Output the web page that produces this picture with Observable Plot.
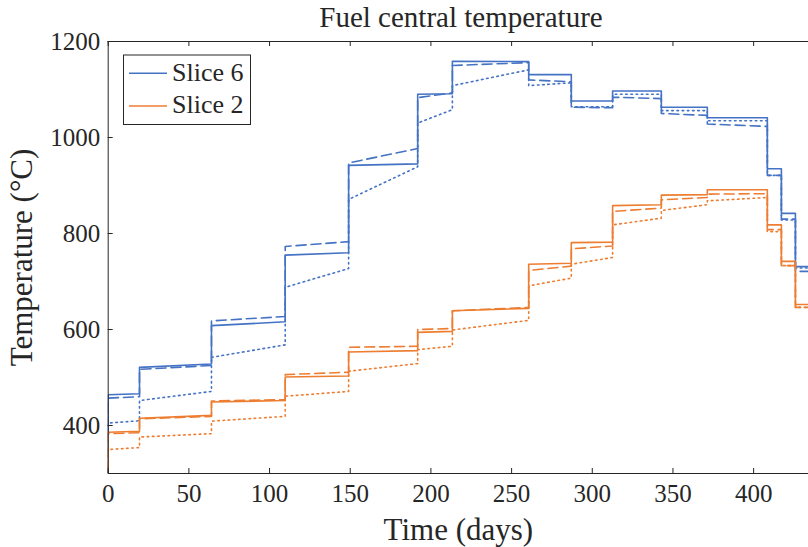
<!DOCTYPE html>
<html>
<head>
<meta charset="utf-8">
<script src="https://cdn.jsdelivr.net/npm/d3@7"></script>
<script src="https://cdn.jsdelivr.net/npm/@observablehq/plot@0.6"></script>
<style>
  body { margin: 0; background: #fff; }
  #fig { position: relative; width: 808px; height: 547px; overflow: hidden; font-family: "Liberation Serif", "Times New Roman", Times, "DejaVu Serif", serif; color: #262626; }
  #fig svg, #fig text { font-family: "Liberation Serif", "Times New Roman", Times, "DejaVu Serif", serif !important; }
  #overlay { position: absolute; left: 0; top: 0; pointer-events: none; }
</style>
</head>
<body>
<div id="fig"></div>
<script>
// ---- data ----
const title = "Fuel central temperature";
const xLabel = "Time (days)";
const yLabel = "Temperature (°C)";
const xTicks = [0, 50, 100, 150, 200, 250, 300, 350, 400];
const yTicks = [400, 600, 800, 1000, 1200];
const xDomain = [0, 434];
const yDomain = [300, 1200];
const startTemp = 20;
// segment boundaries (days)
const times = [0, 19.4, 64, 109.7, 149, 191.8, 213.3, 260.6, 287, 312.6, 342.8, 371.3, 408.5, 417.2, 425.9, 440];
// [start, end] of each segment
const slice6Solid  = [[464,466],[521,528],[608,616],[755,760],[942,945],[1090,1091],[1159,1158],[1131,1131],[1076,1076],[1097,1097],[1063,1063],[1041,1041],[935,935],[842,842],[731,731]];
const slice6Dashed = [[457,460],[517,525],[618,627],[773,783],[947,977],[1083,1093],[1150,1156],[1120,1116],[1063,1062],[1084,1081],[1050,1046],[1028,1023],[921,921],[830,830],[721,721]];
const slice6Dotted = [[405,410],[452,471],[542,568],[688,727],[871,939],[1030,1058],[1108,1141],[1108,1114],[1064,1064],[1090,1090],[1056,1056],[1035,1035],[921,921],[828,828],[728,728]];
const slice2Solid  = [[386,388],[415,421],[449,452],[501,503],[553,556],[594,596],[639,644],[736,738],[781,782],[858,860],[880,881],[891,891],[818,818],[742,742],[652,652]];
const slice2Dashed = [[383,385],[414,419],[451,454],[506,511],[563,565],[600,602],[639,646],[723,732],[768,774],[846,853],[870,875],[882,883],[808,808],[733,733],[646,646]];
const slice2Dotted = [[350,354],[376,383],[409,419],[461,471],[513,529],[558,565],[599,619],[691,707],[736,750],[818,832],[848,860],[868,875],[804,804],[733,733],[646,646]];
const seriesNames = ["Slice 6", "Slice 2"];
const seriesColors = ["#4472C4", "#ED7D31"];

// ---- build ----
const FONT = "'Liberation Serif', 'Times New Roman', Times, 'DejaVu Serif', serif";
const styles = { solid: null, dashed: "10,5", dotted: "1.6,3.6" };
const series = [
  { name: "Slice 6", style: "solid", vals: slice6Solid },
  { name: "Slice 6", style: "dashed", vals: slice6Dashed },
  { name: "Slice 6", style: "dotted", vals: slice6Dotted },
  { name: "Slice 2", style: "solid", vals: slice2Solid },
  { name: "Slice 2", style: "dashed", vals: slice2Dashed },
  { name: "Slice 2", style: "dotted", vals: slice2Dotted }
];
function toPoints(vals) {
  const pts = [{ t: 0, v: startTemp }];
  vals.forEach(([a, b], i) => { pts.push({ t: times[i], v: a }, { t: times[i + 1], v: b }); });
  return pts;
}
const colorOf = name => seriesColors[seriesNames.indexOf(name)];

const W = 808, H = 547, ML = 107.7, MT = 41, MB = 74, MR = 0;
const frameW = W - ML - MR, frameH = H - MT - MB;
const axisColor = "#262626";

const lineMarks = series.map(s => Plot.line(toPoints(s.vals), {
  x: "t", y: "v", stroke: colorOf(s.name), strokeWidth: 1.6,
  strokeDasharray: styles[s.style] || undefined, clip: true
}));

const plot = Plot.plot({
  width: W, height: H,
  marginLeft: ML, marginTop: MT, marginBottom: MB, marginRight: MR,
  style: { fontFamily: FONT, fontSize: "25px", color: axisColor, background: "white", overflow: "visible" },
  x: { domain: xDomain, label: null },
  y: { domain: yDomain, label: null },
  marks: [
    ...lineMarks,
    Plot.ruleY(yDomain, { stroke: axisColor, strokeWidth: 1 }),
    Plot.ruleX([xDomain[0]], { stroke: axisColor, strokeWidth: 1 }),
    Plot.tickX(xTicks, { x: d => d, insetTop: frameH - 5, stroke: axisColor }),
    Plot.tickX(xTicks, { x: d => d, insetBottom: frameH - 5, stroke: axisColor }),
    Plot.tickY(yTicks, { y: d => d, insetRight: frameW - 5, stroke: axisColor }),
    Plot.axisX(xTicks, { tickSize: 0, tickPadding: 11, tickFormat: d => String(d), label: null, fill: axisColor }),
    Plot.axisY(yTicks, { tickSize: 0, tickPadding: 8, tickFormat: d => String(d), label: null, fill: axisColor }),
    Plot.text([xLabel], { frameAnchor: "bottom", dy: 66, lineAnchor: "bottom", textAnchor: "middle", fontSize: 31, fill: axisColor }),
    Plot.text([yLabel], { frameAnchor: "left", rotate: -90, dx: -76, lineAnchor: "bottom", textAnchor: "middle", fontSize: 31, fill: axisColor })
  ]
});
const fig = document.getElementById("fig");
fig.appendChild(plot);

// overlay: title and legend
const ns = "http://www.w3.org/2000/svg";
const ov = d3.select(fig).append("svg").attr("id", "overlay").attr("width", W).attr("height", H)
  .attr("xmlns", ns).style("font-family", FONT);
ov.append("text").attr("x", 461).attr("y", 27).attr("text-anchor", "middle")
  .attr("font-size", 29).attr("fill", axisColor).text(title);
const lg = ov.append("g").attr("transform", "translate(123,54)");
lg.append("rect").attr("x", 0.5).attr("y", 1).attr("width", 127).attr("height", 69.5)
  .attr("fill", "#fff").attr("stroke", axisColor).attr("stroke-width", 1);
seriesNames.forEach((n, i) => {
  const yy = 19.3 + i * 32.7;
  lg.append("line").attr("x1", 6).attr("x2", 44).attr("y1", yy).attr("y2", yy)
    .attr("stroke", seriesColors[i]).attr("stroke-width", 1.6);
  lg.append("text").attr("x", 49).attr("y", yy + 7.2).attr("font-size", 26)
    .attr("fill", axisColor).text(n);
});
</script>
</body>
</html>
